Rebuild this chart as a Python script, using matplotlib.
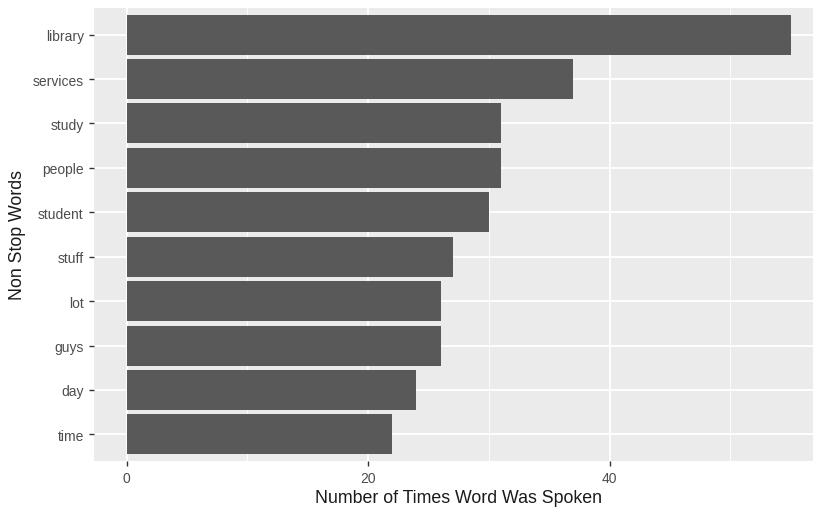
import matplotlib.pyplot as plt

plt.rcParams['font.family'] = ['Liberation Sans', 'DejaVu Sans']

words = ['library', 'services', 'study', 'people', 'student', 'stuff', 'lot', 'guys', 'day', 'time']
counts = [55, 37, 31, 31, 30, 27, 26, 26, 24, 22]

W, H = 813, 510
fig = plt.figure(figsize=(W / 100, H / 100), dpi=100)
# panel runs past the right edge of the picture, as in the reference crop
ax = fig.add_axes([93.5 / W, 1 - 462 / H, (824 - 93.5) / W, (462 - 9) / H])
ax.set_facecolor('#ebebeb')

ypos = list(range(len(words)))[::-1]
ax.barh(ypos, counts, height=0.9, color='#595959', zorder=3)

ax.set_xlim(-2.75, 57.75)
ax.set_ylim(-0.6, len(words) - 0.4)
ax.set_yticks(ypos)
ax.set_yticklabels(words)
ax.set_xticks([0, 20, 40])
ax.set_xticks([10, 30, 50], minor=True)

ax.grid(True, which='major', color='white', linewidth=1.3, zorder=0)
ax.grid(True, which='minor', axis='x', color='white', linewidth=0.6, zorder=0)
for s in ax.spines.values():
    s.set_visible(False)
ax.tick_params(axis='both', which='major', colors='#333333', labelcolor='#4d4d4d',
               labelsize=10, length=3.5, width=1)
ax.tick_params(axis='x', which='minor', length=0)

ax.set_xlabel('Number of Times Word Was Spoken', fontsize=12.8, color='#1a1a1a', labelpad=3)
ax.set_ylabel('Non Stop Words', fontsize=12.8, color='#1a1a1a', labelpad=5)

fig.savefig('out.png', dpi=100)
